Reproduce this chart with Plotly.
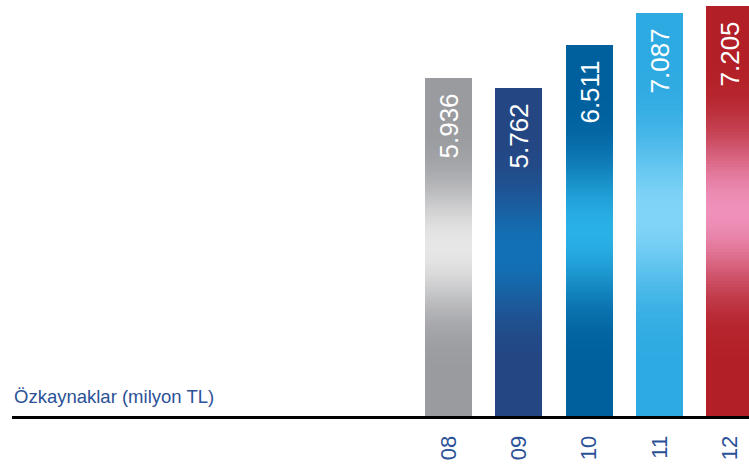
import math
import plotly.graph_objects as go

categories = ["08", "09", "10", "11", "12"]
values = [5936, 5762, 6511, 7087, 7205]
labels = ["5.936", "5.762", "6.511", "7.087", "7.205"]
edge_colors = ["#9a9b9f", "#244683", "#00609e", "#2eaae2", "#b31f26"]
center_colors = ["#e6e6e6", "#1271b6", "#29b0e5", "#80d4f7", "#ef90ba"]
title_text = "Özkaynaklar (milyon TL)"

N = 140
R = 0.88


def hex2rgb(h):
    h = h.lstrip("#")
    return [int(h[i:i + 2], 16) for i in (0, 2, 4)]


def mix(c1, c2, w):
    a, b = hex2rgb(c1), hex2rgb(c2)
    return "rgb(%d,%d,%d)" % tuple(round(a[i] + (b[i] - a[i]) * w) for i in range(3))


xs = list(range(len(categories)))
fig = go.Figure()
for k in reversed(range(N)):
    t = (k + 0.5) / N
    d = abs(t - 0.5) / 0.5
    s = min(d / R, 1.0)
    w = (0.5 * (1 + math.cos(math.pi * s))) ** 2.2
    cols = [mix(edge_colors[i], center_colors[i], w) for i in range(len(values))]
    fig.add_trace(go.Bar(
        x=xs, y=[v * (k + 1) / N for v in values], marker=dict(color=cols, line=dict(width=0)),
        width=0.67, hoverinfo="skip", showlegend=False,
    ))

fig.add_trace(go.Bar(
    x=xs, y=values, text=[l + "\u00a0\u2009" for l in labels], textposition="inside",
    insidetextanchor="end", textangle=-90,
    textfont=dict(family="Liberation Sans, Arial", size=26, color="white"),
    marker=dict(color="rgba(0,0,0,0)", line=dict(width=0)), width=0.67,
    showlegend=False, constraintext="none", hoverinfo="skip",
))

fig.add_annotation(text=title_text, xref="paper", yref="paper", x=0, y=0.048,
                   xanchor="left", yanchor="middle", showarrow=False,
                   font=dict(family="Liberation Sans, Arial", size=18.5, color="#2b5197"))

fig.update_layout(
    width=749, height=465, barmode="overlay", bargap=0,
    margin=dict(l=12, r=0, t=0, b=49),
    plot_bgcolor="white", paper_bgcolor="white",
    xaxis=dict(range=[-6.21, 4.275], tickvals=xs, ticktext=categories, tickangle=-90,
               showgrid=False, zeroline=False, showline=True, linecolor="black", linewidth=3,
               ticks="", ticklabelstandoff=8,
               tickfont=dict(family="Liberation Sans, Arial", size=22, color="#2b5197")),
    yaxis=dict(range=[0, 7310], visible=False, showgrid=False, zeroline=False),
)

fig.write_html("out.html", config={"displayModeBar": False},
               post_script="document.body.style.margin='0';document.body.style.overflow='hidden';")
